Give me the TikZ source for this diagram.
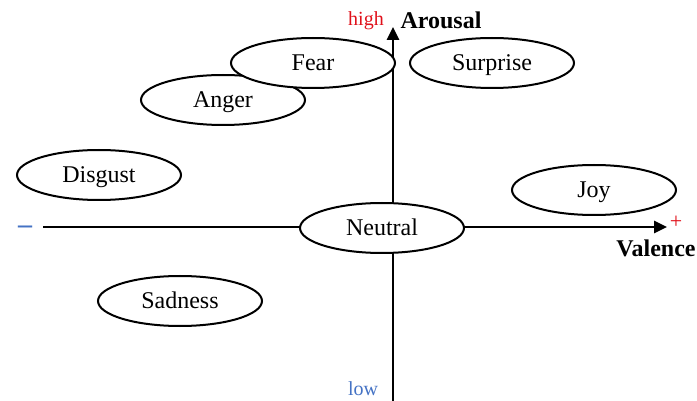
\documentclass[tikz,border=0pt]{standalone}
\usepackage{fontspec}
\setmainfont{Liberation Serif}
\usetikzlibrary{shapes.geometric,arrows.meta}
\definecolor{axred}{HTML}{E0101A}
\definecolor{axblue}{HTML}{4472C4}
\tikzset{
  emo/.style={ellipse,draw=black,line width=2pt,fill=white,minimum width=164pt,minimum height=50pt,inner sep=0pt,text height=15pt,text depth=0pt,font=\fontsize{24}{28}\selectfont},
  axis/.style={line width=2.8pt,-{Triangle[length=13pt,width=12pt]}},
  lbl/.style={inner sep=0pt,anchor=center}
}
\begin{document}
\begin{tikzpicture}[x=1pt,y=-1pt]
\useasboundingbox (0,0) rectangle (697,401);
\coordinate (vbot) at (393,402);
\coordinate (vtop) at (393,27);
\coordinate (hleft) at (43,227);
\coordinate (hright) at (667,227);
\draw[axis] (vbot) -- (vtop);
\draw[axis] (hleft) -- (hright);
\node[emo] (anger) at (223,100) {Anger};
\node[emo] (fear) at (313,63) {Fear};
\node[emo] (surprise) at (492,63) {Surprise};
\node[emo] (disgust) at (99,175) {Disgust};
\node[emo] (joy) at (594,190) {Joy};
\node[emo] (neutral) at (382,228) {Neutral};
\node[emo] (sadness) at (180,301) {Sadness};
\node[lbl,text=axred,font=\fontsize{20}{22}\selectfont] (high) at (366,21) {high};
\node[lbl,font=\bfseries\fontsize{24}{28}\selectfont] (arousal) at (441,20) {Arousal};
\node[lbl,text=axblue,font=\fontsize{20}{22}\selectfont] (low) at (363,389) {low};
\node[inner sep=0pt,anchor=base,text=axblue,font=\bfseries\fontsize{28}{30}\selectfont] (minus) at (25,234) {–};
\node[inner sep=0pt,anchor=base,text=axred,font=\fontsize{22}{24}\selectfont] (plus) at (676,229) {+};
\node[lbl,font=\bfseries\fontsize{24}{28}\selectfont] (valence) at (656,248) {Valence};
\end{tikzpicture}
\end{document}
